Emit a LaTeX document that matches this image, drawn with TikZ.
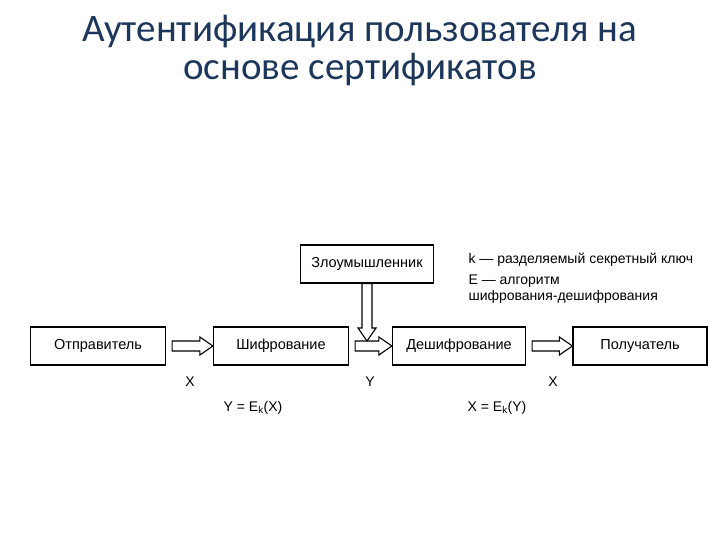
\documentclass[tikz,border=0pt]{standalone}
\usepackage{fontspec}
\setmainfont{Liberation Sans}
\newfontfamily\titlefont{Carlito}
\usetikzlibrary{calc}
\definecolor{titleblue}{RGB}{28,54,92}
\tikzset{
  ttl/.style={font=\titlefont\fontsize{39}{44}\selectfont,text=titleblue,anchor=base},
  blk/.style={draw,line width=1.2pt,minimum height=38pt,inner sep=0pt,font=\fontsize{14.5}{16}\selectfont},
  lbl/.style={font=\fontsize{14}{16}\selectfont},
  hollow/.style={draw,line width=1.1pt,fill=white,line join=miter},
}
\newcommand\harr[2]{\draw[hollow] let \p1=(#1), \p2=(#2) in
  (\x1+6pt,\y1+5pt) -- (\x2-13pt,\y1+5pt) -- (\x2-13pt,\y1+9pt) -- (\x2,\y1)
  -- (\x2-13pt,\y1-9pt) -- (\x2-13pt,\y1-5pt) -- (\x1+6pt,\y1-5pt) -- cycle;}
\begin{document}
\begin{tikzpicture}[x=1pt,y=-1pt]
\useasboundingbox (0,0) rectangle (720,540);
\node[ttl] (title1) at (360,42) {Аутентификация пользователя на};
\node[ttl] (title2) at (360,80) {основе сертификатов};
\node[blk,minimum width=135pt] (sender) at (98,346) {Отправитель};
\node[blk,minimum width=135pt] (enc) at (281,346) {Шифрование};
\node[blk,minimum width=133pt] (attacker) at (367,264) {Злоумышленник};
\node[blk,minimum width=133pt] (dec) at (459,346) {Дешифрование};
\node[blk,minimum width=134pt] (recv) at (640,346) {Получатель};
\harr{sender.east}{enc.west}
\harr{enc.east}{dec.west}
\harr{dec.east}{recv.west}
\coordinate (hit) at (367,341);
\draw[hollow] let \p1=(attacker.south), \p2=(hit) in
  (\x1-5pt,\y1) -- (\x1-5pt,\y2+13pt) -- (\x1-9pt,\y2+13pt) -- (\x2,\y2)
  -- (\x1+9pt,\y2+13pt) -- (\x1+5pt,\y2+13pt) -- (\x1+5pt,\y1) -- cycle;
\node[lbl] (xin) at (190,382) {X};
\node[lbl] (ymid) at (370,382) {Y};
\node[lbl] (xout) at (553,382) {X};
\node[lbl] (encf) at (253,408) {Y = E\textsubscript{k}(X)};
\node[lbl] (decf) at (497,408) {X = E\textsubscript{k}(Y)};
\node[lbl,anchor=base west] (key) at (465,263) {k — разделяемый секретный ключ};
\node[lbl,anchor=base west] (alg) at (465,284) {E — алгоритм};
\node[lbl,anchor=base west] (alg2) at (465,300) {шифрования-дешифрования};
\end{tikzpicture}
\end{document}
